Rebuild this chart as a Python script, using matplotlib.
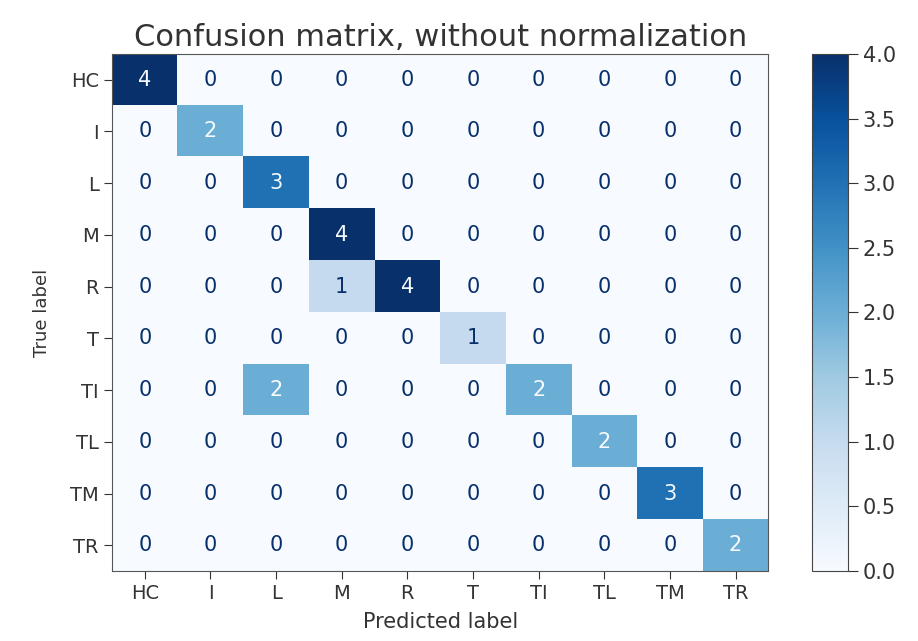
import matplotlib
matplotlib.use("Agg")
import matplotlib.pyplot as plt
import numpy as np

# class labels (same order on both axes)
classes = ['HC', 'I', 'L', 'M', 'R', 'T', 'TI', 'TL', 'TM', 'TR']

# confusion matrix rows = true label, cols = predicted label
cm = np.array([
    [4, 0, 0, 0, 0, 0, 0, 0, 0, 0],
    [0, 2, 0, 0, 0, 0, 0, 0, 0, 0],
    [0, 0, 3, 0, 0, 0, 0, 0, 0, 0],
    [0, 0, 0, 4, 0, 0, 0, 0, 0, 0],
    [0, 0, 0, 1, 4, 0, 0, 0, 0, 0],
    [0, 0, 0, 0, 0, 1, 0, 0, 0, 0],
    [0, 0, 2, 0, 0, 0, 2, 0, 0, 0],
    [0, 0, 0, 0, 0, 0, 0, 2, 0, 0],
    [0, 0, 0, 0, 0, 0, 0, 0, 3, 0],
    [0, 0, 0, 0, 0, 0, 0, 0, 0, 2],
])

fig = plt.figure(figsize=(9.18, 6.41), dpi=100)
ax = fig.add_axes([0.122, 0.109, 0.715, 0.807])
cax = fig.add_axes([0.885, 0.109, 0.039, 0.807])

cmap = plt.cm.Blues
im = ax.imshow(cm, interpolation='nearest', cmap=cmap, aspect='auto', vmin=0, vmax=cm.max())
cb = fig.colorbar(im, cax=cax)
cb.ax.tick_params(labelsize=15, length=7, colors='#333333')
cb.outline.set_edgecolor('#444444')

ax.set_title('Confusion matrix, without normalization', fontsize=22, color='#333333', pad=6)
ax.set_xticks(np.arange(len(classes)))
ax.set_yticks(np.arange(len(classes)))
ax.set_xticklabels(classes)
ax.set_yticklabels(classes)
ax.tick_params(labelsize=14, length=6, colors='#333333')
ax.set_ylabel('True label', fontsize=13, color='#333333', labelpad=14)
ax.set_xlabel('Predicted label', fontsize=15, color='#333333', labelpad=6)
for s in ax.spines.values():
    s.set_edgecolor('#555555')

# cell annotations
thresh = (cm.max() + cm.min()) / 2.0
for i in range(cm.shape[0]):
    for j in range(cm.shape[1]):
        color = cmap(0.0) if cm[i, j] >= thresh else cmap(1.0)
        ax.text(j, i, format(cm[i, j], 'd'), ha='center', va='center',
                color=color, fontsize=15)

plt.savefig('out.png', dpi=100)
